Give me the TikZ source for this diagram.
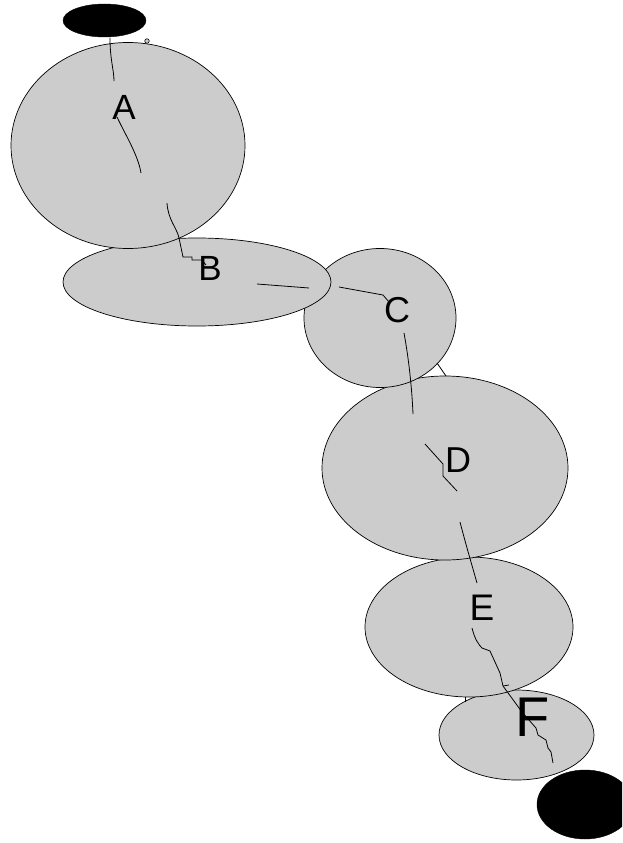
\documentclass[tikz,border=0pt]{standalone}
\usepackage{fontspec}
\setmainfont{Liberation Sans}
\usetikzlibrary{shapes.geometric}
\definecolor{stgrey}{HTML}{CCCCCC}
\tikzset{
  stnode/.style={ellipse, draw=black, fill=stgrey, line width=0.7pt, inner sep=0pt},
  endnode/.style={ellipse, draw=black, fill=black, inner sep=0pt},
  lbl/.style={inner sep=0pt, font=\fontsize{35}{40}\selectfont},
  edgeline/.style={draw=black, line width=0.8pt}
}
\begin{document}
\begin{tikzpicture}[x=1pt,y=-1pt]
\useasboundingbox (0,0) rectangle (622,843);
\clip (0,0) rectangle (622,843);
% nodes (drawn bottom-up so upper ones overlap)
\node[endnode, minimum width=96pt, minimum height=69pt] (fin) at (585,804.5) {};
\node[stnode, minimum width=155pt, minimum height=90pt] (F) at (516.5,735) {};
\node[stnode, minimum width=208pt, minimum height=140pt] (E) at (469,627) {};
\node[stnode, minimum width=246pt, minimum height=184pt] (D) at (445,468) {};
\node[stnode, minimum width=152pt, minimum height=139pt] (C) at (380,318) {};
\node[stnode, minimum width=268pt, minimum height=88pt] (B) at (197,282) {};
\node[stnode, minimum width=234pt, minimum height=206pt] (A) at (128,145.5) {};
\node[endnode, minimum width=83pt, minimum height=33pt] (init) at (104.5,20.5) {};
\node[circle, draw=black, fill=stgrey, line width=0.6pt, minimum size=4.5pt, inner sep=0pt] (dot) at (147,41) {};
% labels
\node[lbl] (lA) at (124,107) {A};
\node[lbl] (lB) at (210,268) {B};
\node[lbl, font=\fontsize{36}{40}\selectfont] (lC) at (397,310) {C};
\node[lbl, font=\fontsize{36}{40}\selectfont] (lD) at (458,460) {D};
\node[lbl, font=\fontsize{37}{40}\selectfont] (lE) at (482,608) {E};
\node[lbl, font=\fontsize{56}{60}\selectfont] (lF) at (533,717) {F};
% connector fragments
\draw[edgeline] (110,38) .. controls (110,60) and (114,70) .. (114,81);
\draw[edgeline] (117,117) .. controls (126,136) and (138,155) .. (141,173);
\draw[edgeline] (167,203) .. controls (168,220) and (177,228) .. (179,238) -- (183,257) -- (192,257) -- (192,260) -- (202,260) -- (206,265);
\draw[edgeline] (257,284) -- (309,288);
\draw[edgeline] (339,287) -- (383,295) -- (389,302);
\draw[edgeline] (404,333) .. controls (409,360) and (412,390) .. (413,414);
\draw[edgeline] (437,363) -- (446,376);
\draw[edgeline] (425,444) -- (443,464) -- (443,476) -- (457,491);
\draw[edgeline] (460,522) .. controls (466,545) and (471,562) .. (477,583);
\draw[edgeline] (472,628) .. controls (475,640) and (479,645) .. (482,648) -- (490,651) -- (500,673) -- (503,686) -- (522,712) -- (536,728) -- (538,735) -- (546,740) -- (548,748) -- (551,752) -- (553,763);
\draw[edgeline] (503,686) -- (509,685);
\draw[edgeline] (465,697) -- (465,702);
\end{tikzpicture}
\end{document}
